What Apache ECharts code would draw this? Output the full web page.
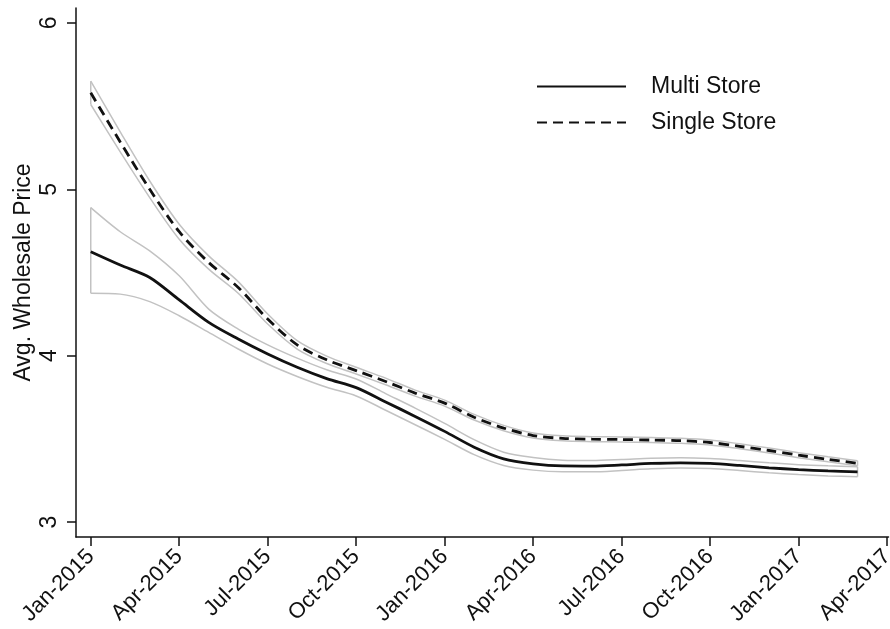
<!DOCTYPE html>
<html>
<head>
<meta charset="utf-8">
<script src="https://cdn.jsdelivr.net/npm/echarts@6/dist/echarts.min.js"></script>
<style>
  html, body { margin: 0; padding: 0; background: #fff; }
  #chart { width: 890px; height: 629px; }
</style>
</head>
<body>
<div id="chart"></div>
<script>
// Monthly average wholesale prices, Jan-2015 .. Mar-2017
const periods = [
  'Jan-2015', 'Feb-2015', 'Mar-2015', 'Apr-2015', 'May-2015', 'Jun-2015',
  'Jul-2015', 'Aug-2015', 'Sep-2015', 'Oct-2015', 'Nov-2015', 'Dec-2015',
  'Jan-2016', 'Feb-2016', 'Mar-2016', 'Apr-2016', 'May-2016', 'Jun-2016',
  'Jul-2016', 'Aug-2016', 'Sep-2016', 'Oct-2016', 'Nov-2016', 'Dec-2016',
  'Jan-2017', 'Feb-2017', 'Mar-2017'
];

const multiStore = [4.625, 4.545, 4.47, 4.335, 4.20, 4.10, 4.01, 3.93, 3.862, 3.808, 3.722, 3.635,
  3.545, 3.45, 3.38, 3.35, 3.337, 3.336, 3.343, 3.352, 3.356, 3.352, 3.34, 3.326, 3.315, 3.307, 3.302];
const multiUpper = [4.89, 4.745, 4.63, 4.48, 4.28, 4.16, 4.065, 3.985, 3.915, 3.86, 3.772, 3.685,
  3.593, 3.495, 3.42, 3.388, 3.372, 3.37, 3.376, 3.384, 3.387, 3.382, 3.37, 3.356, 3.345, 3.338, 3.333];
const multiLower = [4.375, 4.37, 4.325, 4.24, 4.14, 4.04, 3.95, 3.875, 3.81, 3.758, 3.672, 3.585,
  3.497, 3.405, 3.34, 3.312, 3.302, 3.302, 3.31, 3.32, 3.325, 3.322, 3.31, 3.296, 3.285, 3.277, 3.272];

const singleStore = [5.58, 5.285, 5.0, 4.745, 4.56, 4.41, 4.22, 4.065, 3.975, 3.91, 3.845, 3.775,
  3.715, 3.63, 3.565, 3.52, 3.503, 3.498, 3.496, 3.493, 3.489, 3.478, 3.455, 3.43, 3.402, 3.377, 3.353];
const singleUpper = [5.65, 5.345, 5.05, 4.79, 4.60, 4.445, 4.25, 4.09, 3.997, 3.93, 3.865, 3.793,
  3.733, 3.647, 3.581, 3.535, 3.518, 3.513, 3.511, 3.508, 3.504, 3.493, 3.47, 3.445, 3.417, 3.392, 3.368];
const singleLower = [5.51, 5.225, 4.95, 4.70, 4.52, 4.375, 4.19, 4.04, 3.953, 3.89, 3.825, 3.757,
  3.697, 3.613, 3.549, 3.505, 3.488, 3.483, 3.481, 3.478, 3.474, 3.463, 3.44, 3.415, 3.387, 3.362, 3.338];

const xTickLabels = ['Jan-2015', 'Apr-2015', 'Jul-2015', 'Oct-2015', 'Jan-2016',
  'Apr-2016', 'Jul-2016', 'Oct-2016', 'Jan-2017', 'Apr-2017'];
const yTickValues = [3, 4, 5, 6];

const MONTH_NAMES = ['Jan', 'Feb', 'Mar', 'Apr', 'May', 'Jun', 'Jul', 'Aug', 'Sep', 'Oct', 'Nov', 'Dec'];
// Months elapsed since Jan-2015
function monthIndex(label) {
  const [mon, year] = label.split('-');
  return (Number(year) - 2015) * 12 + MONTH_NAMES.indexOf(mon);
}
const xTickValues = xTickLabels.map(monthIndex);
const xs = periods.map(monthIndex);
const pairs = (vals) => vals.map((v, i) => [xs[i], v]);
const last = periods.length - 1;

const FONT = 'Liberation Sans, Arial, Helvetica, sans-serif';
const BAND = '#c2c2c2';
const INK = '#111111';

function bandLine(name, vals) {
  return {
    name, type: 'line', data: pairs(vals), smooth: 0.3, symbol: 'none', silent: true, z: 1,
    lineStyle: { color: BAND, width: 1.5 }
  };
}
function bandEdge(name, idx, lo, hi) {
  return {
    name, type: 'line', data: [[xs[idx], lo[idx]], [xs[idx], hi[idx]]], symbol: 'none', silent: true, z: 1,
    lineStyle: { color: BAND, width: 1.5 }
  };
}

const chart = echarts.init(document.getElementById('chart'), null, { renderer: 'canvas' });
chart.setOption({
  animation: false,
  backgroundColor: '#ffffff',
  textStyle: { fontFamily: FONT },
  grid: { left: 76, top: 8, width: 812.5, height: 529, containLabel: false, outerBoundsMode: 'none' },
  legend: {
    data: ['Multi Store', 'Single Store'],
    orient: 'vertical',
    left: 531,
    top: 70,
    itemWidth: 89,
    itemHeight: 20,
    itemGap: 13,
    selectedMode: false,
    itemStyle: { opacity: 0 },
    textStyle: { fontSize: 23, color: INK, fontFamily: FONT, padding: [0, 0, 0, 20] }
  },
  xAxis: {
    type: 'value',
    min: -0.5,
    max: 27.05,
    splitLine: { show: false },
    axisLine: { show: true, onZero: false, lineStyle: { color: INK, width: 1.5 } },
    axisTick: { show: true, customValues: xTickValues, length: 9, lineStyle: { color: INK, width: 1.5 } },
    axisLabel: {
      customValues: xTickValues,
      rotate: 45,
      margin: 16,
      fontSize: 22,
      color: INK,
      fontFamily: FONT,
      formatter: (v) => xTickLabels[xTickValues.indexOf(Math.round(v))] || ''
    }
  },
  yAxis: {
    type: 'value',
    min: 2.91,
    max: 6.09,
    name: 'Avg. Wholesale Price',
    nameLocation: 'middle',
    nameGap: 41,
    nameMoveOverlap: false,
    nameTextStyle: { fontSize: 23, color: INK, fontFamily: FONT },
    splitLine: { show: false },
    axisLine: { show: true, onZero: false, lineStyle: { color: INK, width: 1.5 } },
    axisTick: { show: true, customValues: yTickValues, length: 9, lineStyle: { color: INK, width: 1.5 } },
    axisLabel: {
      customValues: yTickValues,
      rotate: 90,
      margin: 15,
      fontSize: 23,
      color: INK,
      fontFamily: FONT
    }
  },
  series: [
    bandLine('multiUpper', multiUpper),
    bandLine('multiLower', multiLower),
    bandEdge('multiStart', 0, multiLower, multiUpper),
    bandEdge('multiEnd', last, multiLower, multiUpper),
    bandLine('singleUpper', singleUpper),
    bandLine('singleLower', singleLower),
    bandEdge('singleStart', 0, singleLower, singleUpper),
    bandEdge('singleEnd', last, singleLower, singleUpper),
    {
      name: 'Multi Store', type: 'line', data: pairs(multiStore), smooth: 0.3,
      symbol: 'none', z: 3, color: INK,
      lineStyle: { color: INK, width: 2.8 }
    },
    {
      name: 'Single Store', type: 'line', data: pairs(singleStore), smooth: 0.3,
      symbol: 'none', z: 3, color: INK,
      lineStyle: { color: INK, width: 2.8, type: [10, 6] }
    }
  ]
});
</script>
</body>
</html>
